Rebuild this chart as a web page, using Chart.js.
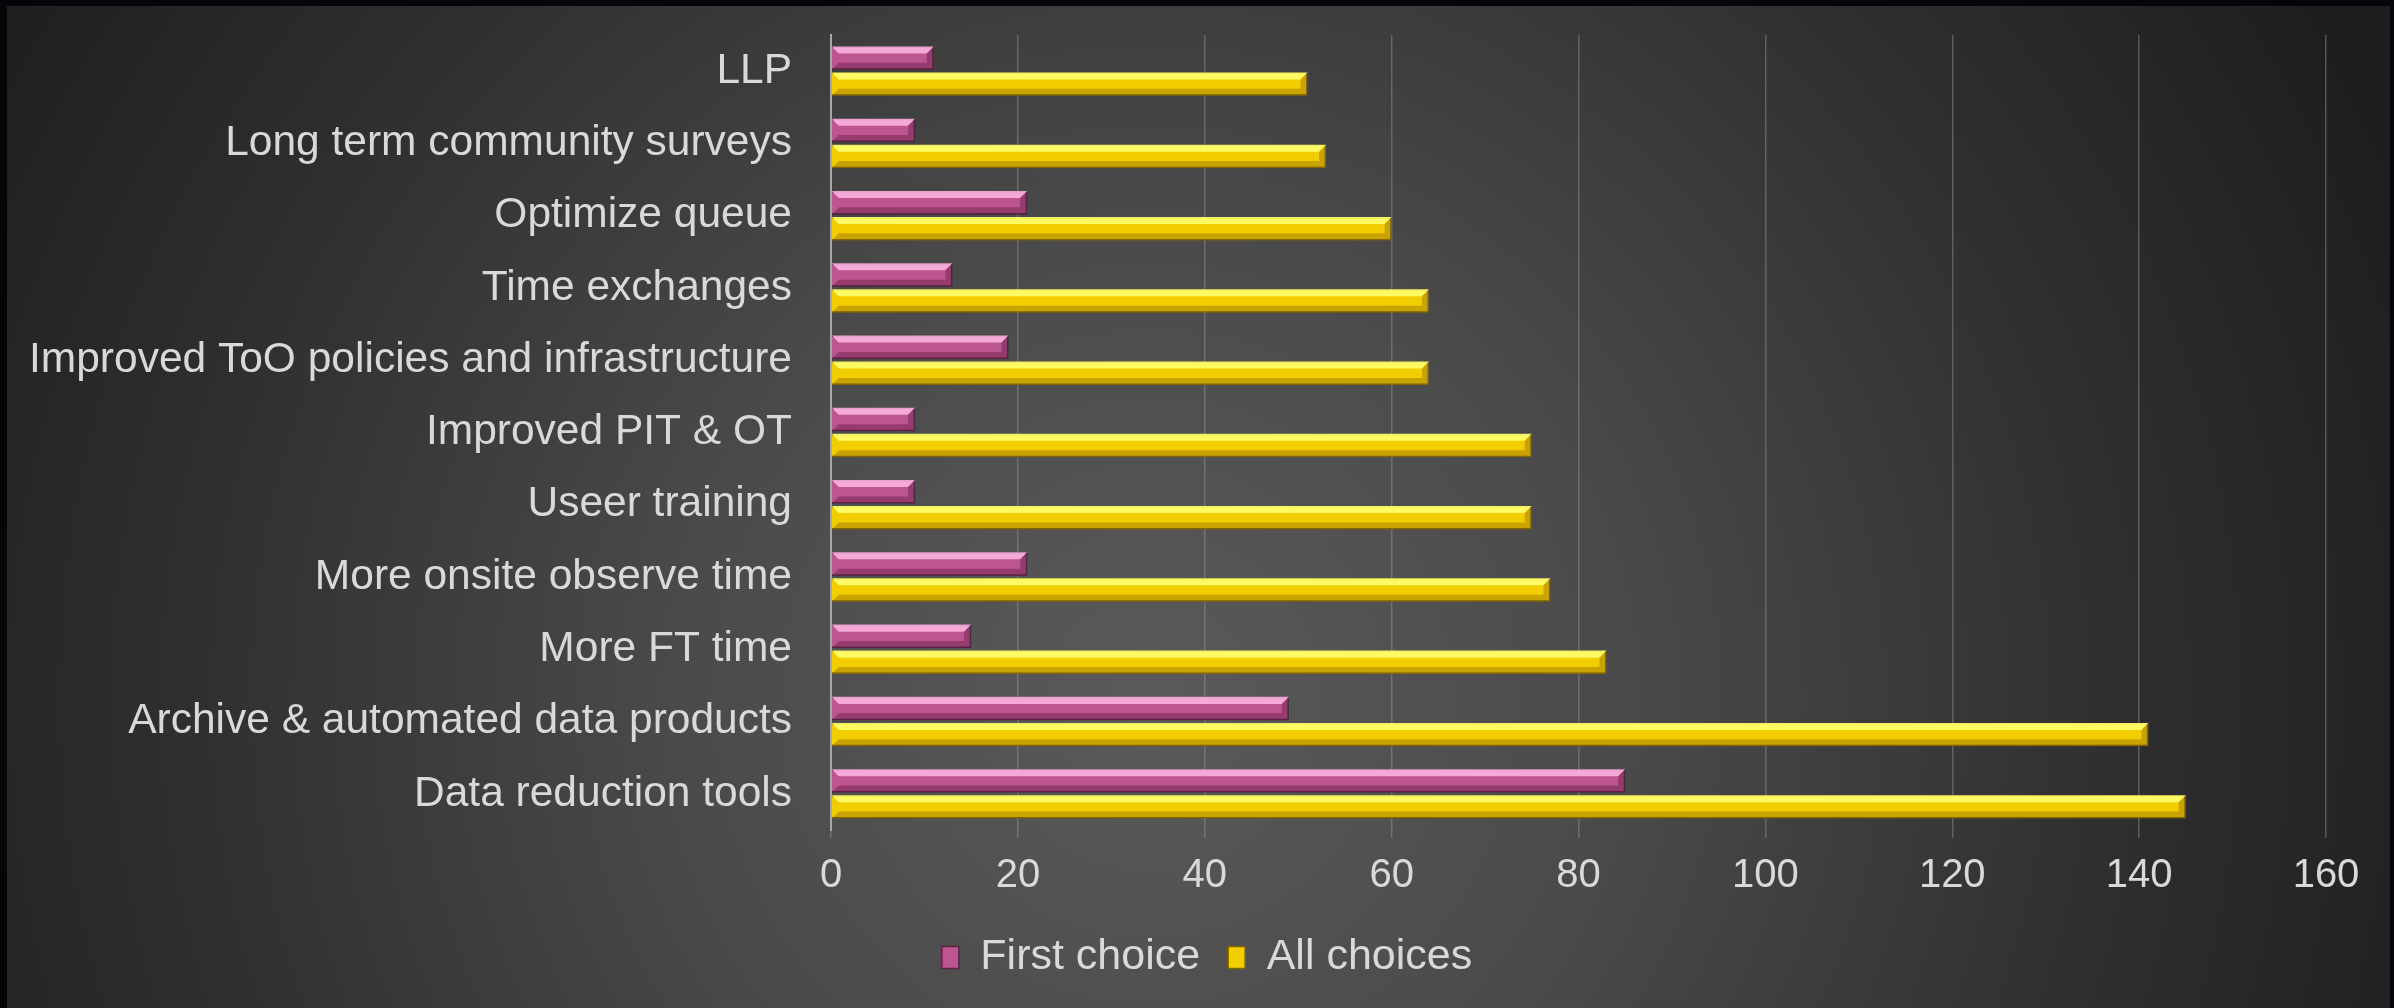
<!DOCTYPE html>
<html>
<head>
<meta charset="utf-8">
<script src="https://cdn.jsdelivr.net/npm/chart.js@4.4.0/dist/chart.umd.min.js"></script>
<style>
  html, body { margin: 0; padding: 0; background: #000; }
  #wrap { width: 2394px; height: 1008px; }
</style>
</head>
<body>
<div id="wrap"><canvas id="myChart" width="2394" height="1008"></canvas></div>
<script>
// Categorías (de arriba hacia abajo)
const categorias = [
    'LLP',
    'Long term community surveys',
    'Optimize queue',
    'Time exchanges',
    'Improved ToO policies and infrastructure',
    'Improved PIT & OT',
    'Useer training',
    'More onsite observe time',
    'More FT time',
    'Archive & automated data products',
    'Data reduction tools'
];

// Valores
const primeraOpcion = [11, 9, 21, 13, 19, 9, 9, 21, 15, 49, 85];
const todasOpciones = [51, 53, 60, 64, 64, 75, 75, 77, 83, 141, 145];

const ticksX = [0, 20, 40, 60, 80, 100, 120, 140, 160];

const colorTexto = '#d9d9d9';
const fuente = "'Liberation Sans', Arial, sans-serif";

// Fondo oscuro con degradado radial y marco negro
const fondo = {
    id: 'fondo',
    beforeDraw(chart) {
        const c = chart.ctx;
        c.save();
        c.fillStyle = '#05060a';
        c.fillRect(0, 0, chart.width, chart.height);
        const g = c.createRadialGradient(1150, 700, 0, 1150, 700, 1350);
        g.addColorStop(0, '#5a5a5a');
        g.addColorStop(0.35, '#4a4a4a');
        g.addColorStop(0.7, '#303030');
        g.addColorStop(1, '#1e1e1e');
        c.fillStyle = g;
        c.fillRect(7, 6, chart.width - 11, chart.height - 6);
        c.restore();
    }
};

// Centra la leyenda un poco más a la derecha, como en el original
const moverLeyenda = {
    id: 'moverLeyenda',
    afterLayout(chart) {
        chart.legend.left += 44;
        chart.legend.right += 44;
    }
};

// Efecto de bisel sobre cada barra
const bisel = {
    id: 'bisel',
    afterDatasetsDraw(chart) {
        const c = chart.ctx;
        const claros = ['rgba(255,185,228,0.85)', 'rgba(255,255,110,0.9)'];
        const oscuros = ['rgba(90,20,60,0.4)', 'rgba(140,100,0,0.4)'];
        c.save();
        chart.data.datasets.forEach((ds, i) => {
            chart.getDatasetMeta(i).data.forEach(bar => {
                const x0 = bar.base, x1 = bar.x;
                const top = bar.y - bar.height / 2;
                const h = bar.height;
                const b = h * 0.3;
                // franja clara superior
                c.fillStyle = claros[i];
                c.beginPath();
                c.moveTo(x0, top);
                c.lineTo(x1, top);
                c.lineTo(x1 - b, top + b);
                c.lineTo(x0 + b, top + b);
                c.closePath();
                c.fill();
                // franja oscura inferior
                c.fillStyle = oscuros[i];
                c.beginPath();
                c.moveTo(x0, top + h);
                c.lineTo(x1, top + h);
                c.lineTo(x1 - b, top + h - b);
                c.lineTo(x0 + b, top + h - b);
                c.closePath();
                c.fill();
                // extremo derecho
                c.beginPath();
                c.moveTo(x1, top);
                c.lineTo(x1, top + h);
                c.lineTo(x1 - b, top + h - b);
                c.lineTo(x1 - b, top + b);
                c.closePath();
                c.fill();
            });
        });
        c.restore();
    }
};

const ctx = document.getElementById('myChart').getContext('2d');

const chart = new Chart(ctx, {
    type: 'bar',
    data: {
        labels: categorias,
        datasets: [{
            label: 'First choice',
            data: primeraOpcion,
            backgroundColor: '#bd5590',
            borderColor: '#5e2344',
            borderWidth: 1.5,
            borderSkipped: 'left',
            categoryPercentage: 0.72,
            barPercentage: 0.9
        }, {
            label: 'All choices',
            data: todasOpciones,
            backgroundColor: '#f2cd00',
            borderColor: '#7d6500',
            borderWidth: 1.5,
            borderSkipped: 'left',
            categoryPercentage: 0.72,
            barPercentage: 0.9
        }]
    },
    options: {
        indexAxis: 'y',
        responsive: false,
        animation: false,
        layout: {
            padding: { left: 0, right: 68, top: 35, bottom: 19 }
        },
        scales: {
            x: {
                min: 0,
                max: 160,
                afterBuildTicks: (scale) => {
                    scale.ticks = ticksX.map(v => ({ value: v }));
                },
                afterFit: (scale) => { scale.height = 78; },
                grid: {
                    color: 'rgba(150,150,150,0.45)',
                    lineWidth: 1.5,
                    drawTicks: true,
                    tickLength: 8
                },
                border: { display: false },
                ticks: {
                    color: colorTexto,
                    padding: 14,
                    font: { family: fuente, size: 40 }
                }
            },
            y: {
                afterFit: (scale) => {
                    scale.width = 831;
                    scale.paddingTop = 0;
                    scale.paddingBottom = 0;
                },
                grid: { display: false },
                border: { display: true, color: '#a8a8a8', width: 2 },
                ticks: {
                    color: colorTexto,
                    padding: 31,
                    autoSkip: false,
                    font: { family: fuente, size: 42.5 }
                }
            }
        },
        plugins: {
            legend: {
                position: 'bottom',
                labels: {
                    color: colorTexto,
                    boxWidth: 17,
                    boxHeight: 22,
                    padding: 28,
                    font: { family: fuente, size: 43 }
                }
            },
            tooltip: { enabled: false }
        }
    },
    plugins: [fondo, moverLeyenda, bisel]
});
</script>
</body>
</html>
